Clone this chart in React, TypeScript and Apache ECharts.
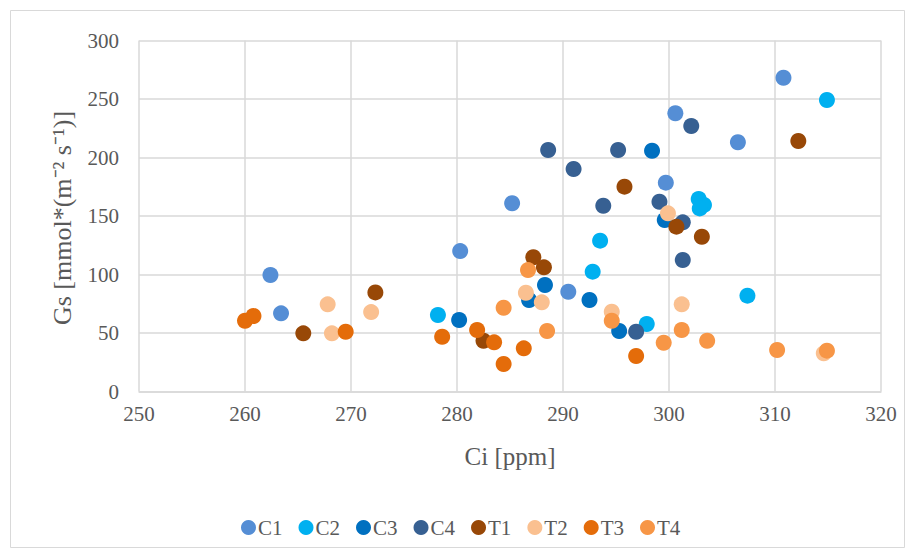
import React, { useEffect, useRef } from "react";
import * as echarts from "echarts";

const seriesNames = ["C1", "C2", "C3", "C4", "T1", "T2", "T3", "T4"];
const seriesColors = ["#558ED5", "#00B0F0", "#0070C0", "#376092", "#984807", "#FAC090", "#E46C0A", "#F79646"];

const c1: number[][] = [[262.4, 99.6], [263.4, 66.8], [280.3, 120], [285.2, 160.9], [290.5, 85.3], [299.7, 178.5], [300.6, 237.8], [306.5, 213], [310.8, 268.2]];
const c2: number[][] = [[278.2, 65.4], [292.8, 102.4], [293.5, 128.9], [297.9, 57.7], [302.8, 164.5], [303.3, 159.5], [302.9, 156.5], [307.4, 81.9], [314.9, 249.1]];
const c3: number[][] = [[280.2, 61.1], [286.8, 78.2], [288.3, 91], [292.5, 78.2], [295.3, 51.7], [298.4, 205.8], [299.6, 146.6]];
const c4: number[][] = [[288.6, 206.4], [291, 190.2], [293.8, 158.8], [295.2, 206.4], [296.9, 51.1], [299.1, 162.2], [301.3, 144.6], [301.3, 112.4], [302.1, 226.9]];
const t1: number[][] = [[265.5, 49.7], [272.3, 84.7], [282.5, 43.4], [287.2, 114.7], [288.2, 106.1], [295.8, 175.1], [300.7, 140.9], [303.1, 132.3], [312.2, 214.1]];
const t2: number[][] = [[267.8, 74.5], [268.2, 49.7], [271.9, 67.9], [286.5, 84.4], [288, 76.2], [294.6, 68.2], [299.9, 152.3], [301.2, 74.5], [314.6, 32.6]];
const t3: number[][] = [[260, 60.5], [260.8, 64.5], [269.5, 51.1], [278.6, 46.8], [281.9, 52.6], [283.5, 42], [284.4, 23.5], [286.3, 36.9], [296.9, 30.3]];
const t4: number[][] = [[284.4, 71.6], [286.7, 103.8], [288.5, 51.7], [294.6, 60.5], [299.5, 41.7], [301.2, 52.6], [303.6, 43.4], [310.2, 35.5], [314.9, 34.9]];

const allData = [c1, c2, c3, c4, t1, t2, t3, t4];

const xTitle = "Ci [ppm]";
const yTitle = "Gs [mmol*(m\u207B\u00B2 s\u207B\u00B9)]";

const FONT = "'Liberation Serif', 'Times New Roman', serif";
const GRAY = "#595959";
const GRID = "#D9D9D9";

export default function App() {
  const ref = useRef<HTMLDivElement>(null);
  useEffect(() => {
    if (!ref.current) return;
    const chart = echarts.init(ref.current, undefined, { renderer: "svg" });
    chart.setOption({
      animation: false,
      backgroundColor: "#fff",
      grid: { left: 139, right: 34, top: 40.5, bottom: 164.5 },
      legend: {
        left: 236,
        top: 512,
        itemWidth: 15,
        itemHeight: 15,
        itemGap: 16,
        icon: "circle",
        textStyle: { fontFamily: FONT, fontSize: 21, color: GRAY, padding: [0, 0, 0, -3] },
        data: seriesNames,
      },
      xAxis: {
        type: "value",
        min: 250,
        max: 320,
        interval: 10,
        name: xTitle,
        nameLocation: "middle",
        nameGap: 52,
        nameTextStyle: { fontFamily: FONT, fontSize: 25, color: GRAY },
        axisLine: { show: true, lineStyle: { color: GRID, width: 1.5 } },
        axisTick: { show: false },
        axisLabel: { fontFamily: FONT, fontSize: 21, color: GRAY, margin: 12 },
        splitLine: { show: true, lineStyle: { color: GRID, width: 1.5 } },
      },
      yAxis: {
        type: "value",
        min: 0,
        max: 300,
        interval: 50,
        axisLine: { show: false },
        axisTick: { show: false },
        axisLabel: { fontFamily: FONT, fontSize: 21, color: GRAY, margin: 20 },
        splitLine: { show: true, lineStyle: { color: GRID, width: 1.5 } },
      },
      graphic: [
        {
          type: "rect",
          shape: { x: 10.5, y: 10.5, width: 894, height: 537 },
          style: { fill: "none", stroke: GRID, lineWidth: 1 },
          silent: true,
          z: -10,
        },
        {
          type: "text",
          x: 62,
          y: 218,
          rotation: Math.PI / 2,
          style: {
            text: yTitle,
            fontFamily: FONT,
            fontSize: 26,
            fill: GRAY,
            textAlign: "center",
            textVerticalAlign: "middle",
          },
        },
      ],
      series: allData.map((d, i) => ({
        name: seriesNames[i],
        type: "scatter",
        data: d,
        symbol: "circle",
        symbolSize: 16,
        itemStyle: { color: seriesColors[i], opacity: 1 },
      })),
    });
    return () => chart.dispose();
  }, []);
  return (
    <div
      ref={ref}
      style={{ position: "absolute", left: 0, top: 0, width: 915, height: 556 }}
    />
  );
}
